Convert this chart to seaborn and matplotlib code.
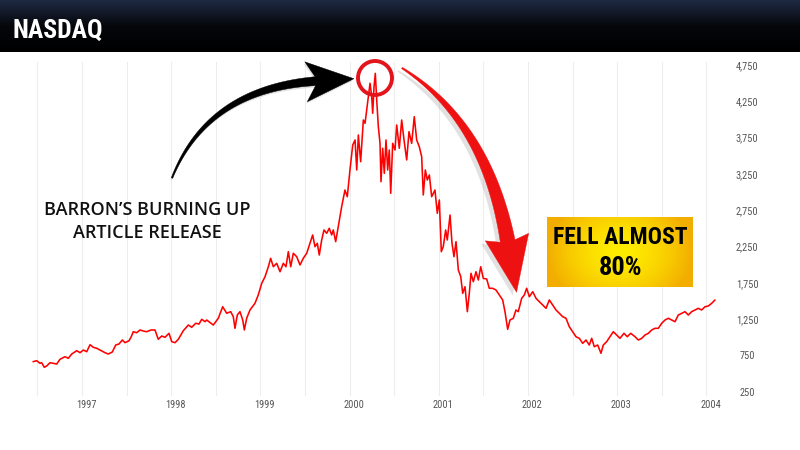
import numpy as np
import seaborn as sns
import matplotlib.pyplot as plt
import matplotlib.transforms as mtransforms
from matplotlib.patches import Polygon, Circle
from matplotlib.colors import LinearSegmentedColormap

W, H = 800, 450

# weekly-ish NASDAQ level (decimal year, index level)
dates = [
    1996.451, 1996.492, 1996.529, 1996.548, 1996.577, 1996.604, 1996.641, 1996.678, 1996.716, 1996.753,
    1996.809, 1996.846, 1996.885, 1996.941, 1996.978, 1997.015, 1997.053, 1997.090, 1997.127, 1997.165,
    1997.202, 1997.258, 1997.295, 1997.340, 1997.378, 1997.415, 1997.452, 1997.482, 1997.527, 1997.549,
    1997.575, 1997.613, 1997.650, 1997.687, 1997.725, 1997.774, 1997.818, 1997.855, 1997.894, 1997.930,
    1997.975, 1998.006, 1998.043, 1998.080, 1998.136, 1998.192, 1998.230, 1998.275, 1998.312, 1998.342,
    1998.379, 1998.398, 1998.472, 1998.528, 1998.577, 1998.622, 1998.667, 1998.696, 1998.715, 1998.741,
    1998.771, 1998.802, 1998.820, 1998.846, 1998.883, 1998.939, 1998.976, 1999.015, 1999.052, 1999.089,
    1999.115, 1999.145, 1999.183, 1999.220, 1999.257, 1999.287, 1999.313, 1999.340, 1999.369, 1999.407,
    1999.444, 1999.481, 1999.519, 1999.556, 1999.586, 1999.612, 1999.638, 1999.660, 1999.687, 1999.713,
    1999.743, 1999.772, 1999.799, 1999.817, 1999.844, 1999.873, 1999.911, 1999.948, 1999.974, 2000.004,
    2000.035, 2000.061, 2000.080, 2000.098, 2000.124, 2000.154, 2000.173, 2000.192, 2000.210, 2000.229,
    2000.248, 2000.259, 2000.274, 2000.288, 2000.304, 2000.322, 2000.341, 2000.352, 2000.371, 2000.389,
    2000.408, 2000.427, 2000.445, 2000.461, 2000.483, 2000.509, 2000.528, 2000.557, 2000.584, 2000.610,
    2000.640, 2000.666, 2000.696, 2000.725, 2000.752, 2000.781, 2000.808, 2000.826, 2000.849, 2000.871,
    2000.894, 2000.920, 2000.957, 2000.983, 2001.006, 2001.028, 2001.050, 2001.077, 2001.095, 2001.126,
    2001.148, 2001.170, 2001.193, 2001.219, 2001.246, 2001.268, 2001.294, 2001.320, 2001.342, 2001.361,
    2001.387, 2001.417, 2001.443, 2001.470, 2001.499, 2001.537, 2001.566, 2001.604, 2001.641, 2001.678,
    2001.716, 2001.742, 2001.772, 2001.798, 2001.835, 2001.865, 2001.891, 2001.929, 2001.959, 2001.985,
    2002.015, 2002.053, 2002.090, 2002.127, 2002.165, 2002.202, 2002.239, 2002.277, 2002.314, 2002.351,
    2002.389, 2002.426, 2002.463, 2002.501, 2002.538, 2002.575, 2002.613, 2002.650, 2002.687, 2002.714,
    2002.743, 2002.781, 2002.818, 2002.844, 2002.882, 2002.919, 2002.956, 2002.994, 2003.031, 2003.076,
    2003.113, 2003.151, 2003.200, 2003.237, 2003.275, 2003.312, 2003.349, 2003.387, 2003.424, 2003.461,
    2003.499, 2003.536, 2003.573, 2003.611, 2003.648, 2003.685, 2003.723, 2003.760, 2003.797, 2003.835,
    2003.872, 2003.909, 2003.947, 2003.984, 2004.021, 2004.059, 2004.096,
]
levels = [
    663, 677, 641, 649, 586, 604, 649, 641, 631, 696,
    732, 710, 769, 815, 787, 824, 801, 897, 861, 848,
    824, 787, 769, 797, 893, 907, 962, 925, 952, 999,
    1076, 1062, 1100, 1086, 1076, 1100, 1100, 972, 1017, 999,
    1054, 939, 925, 972, 1090, 1168, 1137, 1192, 1182, 1247,
    1214, 1237, 1168, 1261, 1420, 1330, 1352, 1283, 1123, 1306,
    1352, 1237, 1100, 1261, 1375, 1467, 1582, 1743, 1834, 1971,
    2087, 1971, 2018, 1902, 2018, 1971, 2178, 1971, 2156, 2109,
    1995, 2087, 2156, 2293, 2408, 2247, 2293, 2132, 2339, 2477,
    2431, 2500, 2408, 2477, 2316, 2522, 2797, 3027, 2935, 3303,
    3647, 3716, 3303, 3785, 3417, 3991, 3946, 4129, 4312, 4497,
    4312, 4084, 4450, 4634, 4267, 3899, 3670, 3142, 3602, 3257,
    3716, 3303, 3578, 2982, 3670, 3578, 3922, 3602, 3991, 3716,
    3441, 3830, 3670, 4037, 3716, 3624, 3486, 2959, 3303, 3165,
    3234, 2935, 3027, 2707, 2890, 2178, 2247, 2477, 2339, 2683,
    2293, 2109, 2316, 1926, 1834, 1605, 1696, 1352, 1605, 1880,
    1765, 1902, 1788, 1971, 1810, 1802, 1674, 1674, 1650, 1582,
    1513, 1352, 1109, 1237, 1261, 1375, 1352, 1536, 1582, 1674,
    1558, 1627, 1536, 1489, 1444, 1398, 1513, 1444, 1375, 1330,
    1283, 1261, 1145, 1076, 1007, 985, 916, 962, 893, 985,
    870, 893, 779, 893, 939, 1007, 1076, 1031, 985, 1054,
    1007, 1054, 1007, 962, 985, 1031, 1054, 1100, 1123, 1123,
    1192, 1237, 1261, 1237, 1214, 1306, 1330, 1352, 1306, 1352,
    1375, 1398, 1375, 1420, 1430, 1467, 1513,
]

year_ticks = list(range(1997, 2005))
level_ticks = list(range(250, 5000, 500))
title = "NASDAQ"
note_left = ["BARRON\u2019S BURNING UP", "ARTICLE RELEASE"]
note_right = ["FELL ALMOST", "80%"]

sns.set_theme(style="white")
narrow = ["Roboto Condensed", "Liberation Sans Narrow", "Roboto", "DejaVu Sans"]
plt.rcParams["font.family"] = narrow


def px_year(px):
    return 1997 + (px - 82) / 89.2


def px_level(py):
    return 250 + (391.7 - py) * 13.77


fig = plt.figure(figsize=(8, 4.5), dpi=100)
fig.patch.set_facecolor("white")

# header bar
hdr = fig.add_axes([0, 1 - 52 / H, 1, 52 / H])
hdr_cmap = LinearSegmentedColormap.from_list("hdr", ["#1e2942", "#05070b", "#000000"])
hdr.imshow(np.linspace(0, 1, 64)[:, None], aspect="auto", cmap=hdr_cmap, extent=[0, 1, 0, 1])
hdr.axis("off")
fig.text(13 / W, 1 - 31 / H, title, color="white", fontsize=18.5, fontweight="bold",
         va="center", ha="left", family=narrow)

# main chart
left, right, top, bottom = 25, 725, 62, 396
ax = fig.add_axes([left / W, 1 - bottom / H, (right - left) / W, (bottom - top) / H])
sns.lineplot(x=dates, y=levels, ax=ax, color="#ff0000", lw=1.15, sort=False)
ax.set_xlim(px_year(left), px_year(right))
ax.set_ylim(px_level(bottom), px_level(top))
for s in ax.spines.values():
    s.set_visible(False)

ax.set_xticks(year_ticks)
ax.set_xticklabels([str(y) for y in year_ticks])
ax.set_xticks([y + 0.5 for y in range(1996, 2004)], minor=True)
ax.grid(axis="x", which="both", color="#ededed", lw=0.8)
ax.grid(axis="y", visible=False)

ax.yaxis.tick_right()
ax.set_yticks(level_ticks)
ax.set_yticklabels([f"{v:,}" for v in level_ticks])
ax.tick_params(axis="y", length=0, pad=16, labelsize=7.5, labelcolor="#555555")
ax.tick_params(axis="x", which="both", length=0, pad=3, labelsize=7.5, labelcolor="#555555")
for lbl in ax.get_yticklabels():
    lbl.set_horizontalalignment("center")
shift = mtransforms.ScaledTranslation(3 / 72, 0, fig.dpi_scale_trans)
for lbl in ax.get_xticklabels():
    lbl.set_transform(lbl.get_transform() + shift)

# overlay in pixel coordinates for the call-outs
ov = fig.add_axes([0, 0, 1, 1], zorder=5)
ov.patch.set_alpha(0)
ov.axis("off")


def tapered_arrow(p0, p1, p2, w0, w1, head_len, head_w, back, color, shadow=None):
    p0, p1, p2 = map(np.asarray, (p0, p1, p2))
    t = np.linspace(0, 1, 80)[:, None]
    pts = (1 - t) ** 2 * p0 + 2 * (1 - t) * t * p1 + t ** 2 * p2
    d = 2 * (1 - t) * (p1 - p0) + 2 * t * (p2 - p1)
    d = d / np.linalg.norm(d, axis=1)[:, None]
    n = np.column_stack([-d[:, 1], d[:, 0]])
    w = (w0 + (w1 - w0) * t) / 2
    body = np.vstack([pts + n * w, (pts - n * w)[::-1]])
    de, ne = d[-1], n[-1]
    head = np.array([p2 + de * head_len, p2 - de * back + ne * head_w / 2,
                     p2, p2 - de * back - ne * head_w / 2])
    if shadow is not None:
        off = np.array(shadow)
        for poly in (body, head):
            ov.add_patch(Polygon(poly + off, closed=True, fc="#8a8a8a", ec="none", alpha=0.25))
    for poly in (body, head):
        ov.add_patch(Polygon(poly, closed=True, fc=color, ec=color, lw=0.3))


tapered_arrow((172, 178), (208, 88), (318, 81), 1.5, 9, 36, 40, 12, "#000000", shadow=(-1, 2))
tapered_arrow((402, 68), (487, 122), (508, 243), 1.5, 15, 50, 44, 6, "#ee1111", shadow=(-4, 3))
ov.add_patch(Circle((375, 78), 17, fill=False, ec="#e3141b", lw=2.8))

# yellow call-out box
bx0, bx1, by0, by1 = 547, 693, 217, 287
u = np.linspace(-1, 1, 200)[None, :]
v = np.linspace(-1, 1, 100)[:, None]
r = np.clip(np.sqrt(u ** 2 + 0.35 * v ** 2), 0, 1)
c_in, c_out = np.array([1.0, 0.93, 0.0]), np.array([0.95, 0.68, 0.0])
img = c_in + (c_out - c_in) * r[..., None] ** 1.6
ov.imshow(img, extent=[bx0, bx1, by1, by0], aspect="auto", zorder=2)
ov.text((bx0 + bx1) / 2, 238, note_right[0], fontsize=17, fontweight="bold", color="black",
        ha="center", va="center", zorder=3, family=narrow)
ov.text((bx0 + bx1) / 2, 268, note_right[1], fontsize=19, fontweight="bold", color="black",
        ha="center", va="center", zorder=3, family=narrow)

# hand-written style note
hand = ["Open Sans", "DejaVu Sans"]
ov.text(147, 210, note_left[0], fontsize=13, fontweight="semibold", color="#111111",
        ha="center", va="center", family=hand)
ov.text(147, 233, note_left[1], fontsize=13, fontweight="semibold", color="#111111",
        ha="center", va="center", family=hand)

ov.set_xlim(0, W)
ov.set_ylim(H, 0)

fig.savefig("out.png", dpi=100)
